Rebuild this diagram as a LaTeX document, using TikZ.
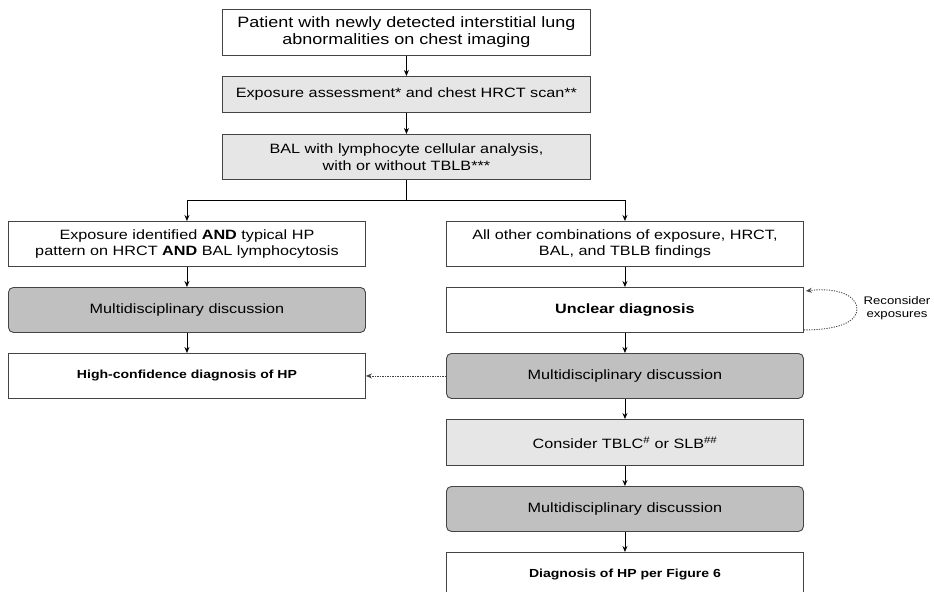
\documentclass[tikz,border=0pt]{standalone}
\usepackage{fontspec}
\setmainfont{Liberation Sans}[FakeStretch=1.2]
\usetikzlibrary{arrows.meta}
\definecolor{lightbox}{HTML}{E6E6E6}
\definecolor{darkbox}{HTML}{C0C0C0}
\definecolor{edgec}{HTML}{444444}
\tikzset{
  box/.style={draw=edgec, line width=0.9bp, inner sep=0pt, anchor=north west, align=center,
    font=\fontsize{13.5bp}{16.5bp}\selectfont},
  lbox/.style={box, fill=lightbox},
  mdt/.style={box, fill=darkbox, rounded corners=5bp},
  wide/.style={minimum width=368bp},
  half/.style={minimum width=357bp},
  arr/.style={-{Stealth[length=6bp,width=5bp]}, line width=0.9bp, draw=black},
  dotarr/.style={arr, dash pattern=on 1.2bp off 1.3bp, draw=edgec},
  note/.style={align=center, inner sep=0pt, font=\fontsize{11bp}{13bp}\selectfont}
}
\begin{document}
\begin{tikzpicture}[x=1bp,y=-1bp]
\useasboundingbox (0,0) rectangle (934,592);
\clip (0,0) rectangle (934,592);
% top column
\node[box, wide, minimum height=46bp, font=\fontsize{15bp}{17bp}\selectfont] (top) at (222,9)
  {Patient with newly detected interstitial lung\\abnormalities on chest imaging};
\node[lbox, wide, minimum height=36bp] (exp) at (222,76)
  {Exposure assessment* and chest HRCT scan**};
\node[lbox, wide, minimum height=45bp] (bal) at (222,134)
  {BAL with lymphocyte cellular analysis,\\with or without TBLB***};
% left column
\node[box, half, minimum height=45bp] (l1) at (8,221)
  {Exposure identified \textbf{AND} typical HP\\pattern on HRCT \textbf{AND} BAL lymphocytosis};
\node[mdt, half, minimum height=45bp] (lmdt) at (8,287) {Multidisciplinary discussion};
\node[box, half, minimum height=45bp, font=\fontsize{11.7bp}{14bp}\selectfont\bfseries] (lhc) at (8,353)
  {High-confidence diagnosis of HP};
% right column
\node[box, half, minimum height=45bp] (r1) at (446,221)
  {All other combinations of exposure, HRCT,\\BAL, and TBLB findings};
\node[box, half, minimum height=45bp, font=\fontsize{13.5bp}{16bp}\selectfont\bfseries] (ru) at (446,287)
  {Unclear diagnosis};
\node[mdt, half, minimum height=45bp] (rmdt) at (446,353) {Multidisciplinary discussion};
\node[lbox, half, minimum height=46bp] (rc) at (446,419)
  {Consider TBLC\textsuperscript{\#} or SLB\textsuperscript{\#\#}};
\node[mdt, half, minimum height=45bp] (rmdt2) at (446,486) {Multidisciplinary discussion};
\node[box, half, minimum height=45bp, font=\fontsize{11.7bp}{14bp}\selectfont\bfseries] (rd) at (446,552)
  {Diagnosis of HP per Figure 6};
\node[note] (recon) at (897,308) {Reconsider\\exposures};
% connectors
\draw[arr] (top) -- (exp);
\draw[arr] (exp) -- (bal);
\draw[line width=0.9bp] (bal.south) -- ++(0,21) coordinate (split);
\draw[arr] (split) -| (l1.north);
\draw[arr] (split) -| (r1.north);
\draw[arr] (l1) -- (lmdt);
\draw[arr] (lmdt) -- (lhc);
\draw[arr] (r1) -- (ru);
\draw[arr] (ru) -- (rmdt);
\draw[arr] (rmdt) -- (rc);
\draw[arr] (rc) -- (rmdt2);
\draw[arr] (rmdt2) -- (rd);
\draw[dotarr] (rmdt.west) -- (lhc.east);
\draw[dotarr] ([yshift=3bp]ru.south east) .. controls (838,330) and (857,322) .. (857,309)
  .. controls (857,296) and (838,287) .. ([yshift=-4bp,xshift=2bp]ru.north east);
\end{tikzpicture}
\end{document}
